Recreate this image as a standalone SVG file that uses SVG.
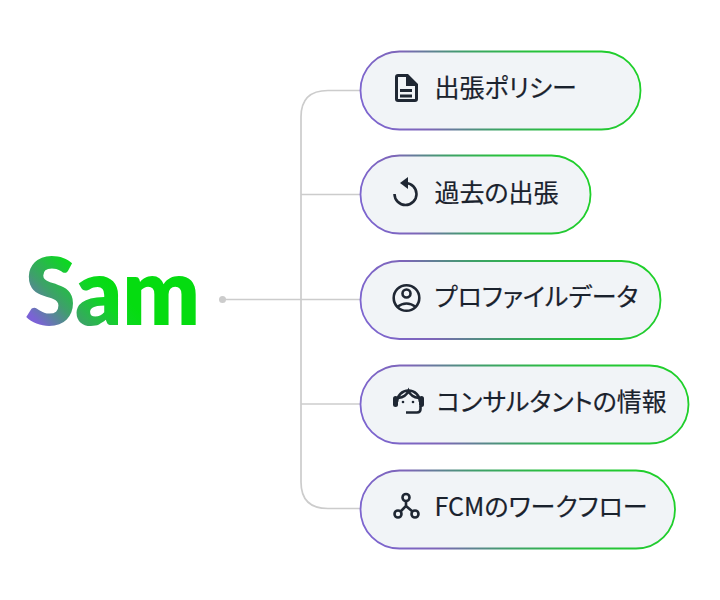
<svg xmlns="http://www.w3.org/2000/svg" width="720" height="600" viewBox="0 0 720 600">
<style>
.pill{fill:#f1f4f7;stroke:url(#border);stroke-width:1.8}
.label{font-family:"Noto Sans CJK JP","Noto Sans",sans-serif;font-size:25px;font-weight:400;font-feature-settings:"palt";fill:#1a222d;stroke:#1a222d;stroke-width:0.2}
.conn{fill:none;stroke:#cccccc;stroke-width:1.7}
.ico{fill:none;stroke:#1f2733;stroke-width:2.6}
.icf{fill:#1f2733}
</style>
<defs>
<linearGradient id="border" x1="0" y1="0.55" x2="1" y2="0.45">
<stop offset="0" stop-color="#7d65cf"/><stop offset="0.2" stop-color="#7d65b8"/><stop offset="0.42" stop-color="#3f9f6a"/><stop offset="0.65" stop-color="#28c03c"/><stop offset="1" stop-color="#1fd02a"/>
</linearGradient>
<linearGradient id="logo" gradientUnits="userSpaceOnUse" x1="32" y1="330" x2="98" y2="268">
<stop offset="0.1" stop-color="#7b62d6"/><stop offset="0.42" stop-color="#3f9f6c"/><stop offset="0.8" stop-color="#0cd820"/><stop offset="1" stop-color="#05dc10"/>
</linearGradient>
</defs>
<rect width="720" height="600" fill="#ffffff"/>
<g id="connectors">
<circle cx="222.500" cy="299.500" r="3.500" fill="#cccccc"/>
<path class="conn" d="M222 299.500H360"/>
<path class="conn" d="M360 90.500H328Q301 90.500 301 117V482Q301 508.500 328 508.500H360"/>
<path class="conn" d="M301 194.500H360"/>
<path class="conn" d="M301 404H360"/>
</g>
<g id="sam">
<text x="25" y="324.500" font-family="Lato,'Noto Sans',sans-serif" font-weight="800" font-size="93" textLength="175" lengthAdjust="spacingAndGlyphs" fill="url(#logo)">Sam</text>
</g>
<g id="node1">
<rect class="pill" x="360.500" y="51.500" width="280" height="78" rx="39"/>
<path class="icf" fill-rule="evenodd" d="M398 74H408L418 84V99Q418 102 415 102H398Q395 102 395 99V77Q395 74 398 74ZM398 77V99H415V86H406V77ZM400 89H412V92H400ZM400 94.500H412V97.500H400Z"/>
<text class="label" x="434.500" y="96.500">出張ポリシー</text>
</g>
<g id="node2">
<rect class="pill" x="360.500" y="155.500" width="230" height="78" rx="39"/>
<path class="ico" d="M394.500 194A11 11 0 1 0 405.500 183"/>
<path class="icf" d="M408 177V189L400 183Z"/>
<text class="label" x="434.500" y="201.500">過去の出張</text>
</g>
<g id="node3">
<rect class="pill" x="360.500" y="261" width="300" height="78" rx="39"/>
<g class="ico"><circle cx="406.500" cy="298" r="12.800"/><circle cx="406.500" cy="293.500" r="4"/><path d="M397 307Q406.500 300 416 307"/></g>
<text class="label" x="434.500" y="305.500">プロファイルデータ</text>
</g>
<g id="node4">
<rect class="pill" x="360.500" y="365.500" width="328" height="78" rx="39"/>
<path class="ico" stroke-width="3" d="M397 402A11.500 11.500 0 0 1 420 402"/>
<path class="ico" stroke-width="2" d="M398 398Q406 397 408.500 391Q411 397 419 398"/>
<rect class="icf" x="393" y="396" width="5" height="11" rx="2.500"/><rect class="icf" x="419" y="396" width="5" height="11" rx="2.500"/>
<path class="ico" d="M420.500 406V409Q420.500 412.500 417 412.500H406"/>
<circle class="icf" cx="403" cy="402" r="1.300"/><circle class="icf" cx="413" cy="402" r="1.300"/>
<text class="label" x="436.500" y="410.500">コンサルタントの情報</text>
</g>
<g id="node5">
<rect class="pill" x="360.500" y="470.500" width="314.500" height="78" rx="39"/>
<g class="ico"><circle cx="406" cy="497.500" r="3.500"/><circle cx="398" cy="514" r="3.500"/><circle cx="415" cy="514" r="3.500"/><path d="M406 501V506L400.500 511.500M406 506L412.500 511.500"/></g>
<text class="label" x="434.500" y="515.500">FCMのワークフロー</text>
</g>
</svg>
